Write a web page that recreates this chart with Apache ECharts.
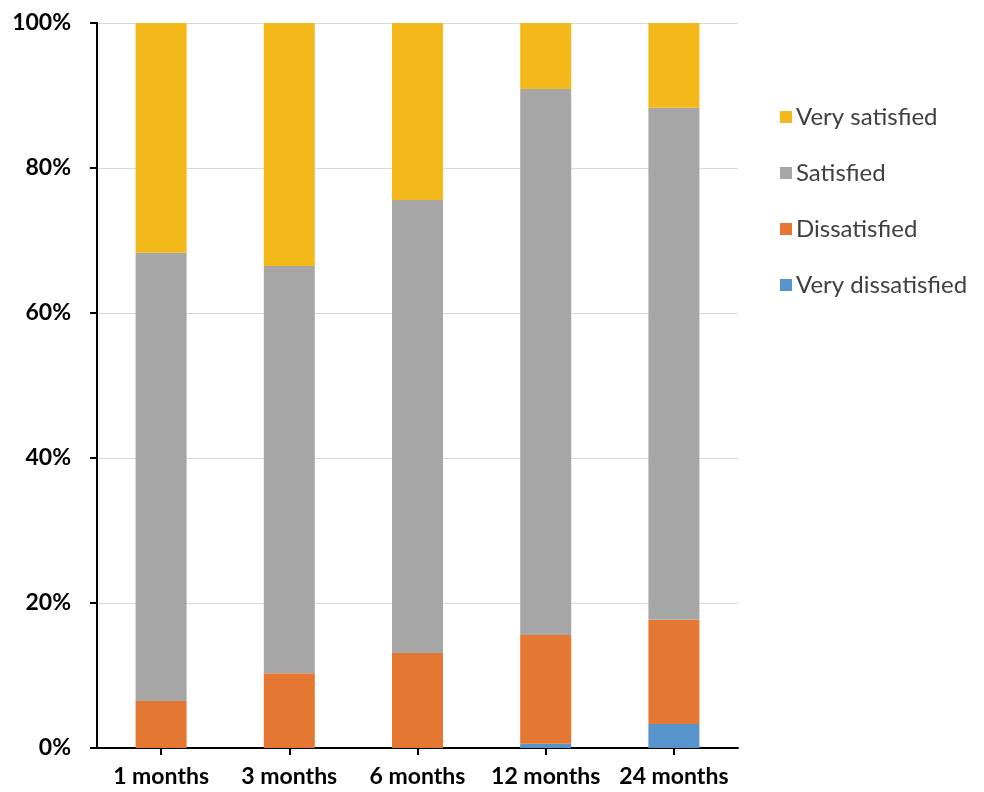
<!DOCTYPE html>
<html>
<head>
<meta charset="utf-8">
<script src="https://cdn.jsdelivr.net/npm/echarts@6/dist/echarts.min.js"></script>
<style>
  html, body { margin: 0; padding: 0; background: #ffffff; }
  #chart { width: 984px; height: 792px; }
</style>
</head>
<body>
<div id="chart"></div>
<script>
// Satisfaction over follow-up time (percent of respondents)
const categories = ['1 months', '3 months', '6 months', '12 months', '24 months'];
const veryDissatisfied = [0, 0, 0, 0.6, 3.3];
const dissatisfied = [6.5, 10.3, 13.1, 15.0, 14.4];
const satisfied = [61.8, 56.2, 62.5, 75.3, 70.6];
const verySatisfied = [31.7, 33.5, 24.4, 9.1, 11.7];
const yTicks = [0, 20, 40, 60, 80, 100];

const FONT = 'Lato, "Open Sans", sans-serif';

function barSeries(name, data, color) {
  return {
    name: name,
    type: 'bar',
    stack: 'total',
    data: data,
    barWidth: 51,
    itemStyle: { color: color },
    emphasis: { disabled: true }
  };
}

const chart = echarts.init(document.getElementById('chart'), null, { renderer: 'canvas' });
chart.setOption({
  animation: false,
  backgroundColor: '#ffffff',
  grid: { left: 97, right: 246, top: 23, bottom: 44, containLabel: false },
  legend: {
    orient: 'vertical',
    left: 775,
    top: 100,
    icon: 'rect',
    itemWidth: 12,
    itemHeight: 12,
    itemGap: 32,
    data: ['Very satisfied', 'Satisfied', 'Dissatisfied', 'Very dissatisfied'],
    textStyle: { fontFamily: FONT, fontSize: 24, color: '#404040', padding: [0, 0, 0, -1] }
  },
  xAxis: {
    type: 'category',
    data: categories,
    axisLine: { lineStyle: { color: '#000000', width: 2 } },
    axisTick: { show: true, alignWithLabel: true, length: 7, lineStyle: { color: '#000000', width: 2 } },
    axisLabel: { interval: 0, fontFamily: FONT, fontSize: 23, fontWeight: 'bold', color: '#000000', margin: 17 }
  },
  yAxis: {
    type: 'value',
    min: yTicks[0],
    max: yTicks[yTicks.length - 1],
    interval: 20,
    axisLine: { show: true, lineStyle: { color: '#000000', width: 2 } },
    axisTick: { show: true, length: 7, lineStyle: { color: '#000000', width: 2 } },
    axisLabel: { fontFamily: FONT, fontSize: 23, fontWeight: 'bold', color: '#000000', margin: 26, formatter: '{value}%' },
    splitLine: { lineStyle: { color: '#d9d9d9', width: 1 } }
  },
  series: [
    barSeries('Very dissatisfied', veryDissatisfied, '#5794cc'),
    barSeries('Dissatisfied', dissatisfied, '#e47833'),
    barSeries('Satisfied', satisfied, '#a6a6a6'),
    barSeries('Very satisfied', verySatisfied, '#f3b81a')
  ]
});
</script>
</body>
</html>
